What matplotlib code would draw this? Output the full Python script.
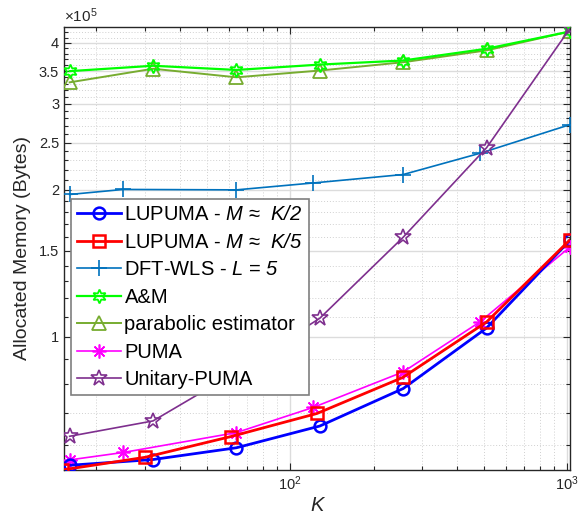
import numpy as np
import matplotlib.pyplot as plt
from matplotlib.ticker import FixedLocator, FixedFormatter, NullFormatter

plt.rcParams['font.family'] = ['Liberation Sans', 'DejaVu Sans']
plt.rcParams['mathtext.fontset'] = 'custom'
# math text is only used for the italic symbols in the labels
plt.rcParams['mathtext.rm'] = 'Liberation Sans:italic'
plt.rcParams['mathtext.it'] = 'Liberation Sans:italic'

# K values for each method
k_pow2 = [16, 32, 64, 128, 256, 512, 1024]
k_div5 = [15, 30, 61, 125, 255, 512, 1020]
k_sq = [16, 25, 64, 121, 256, 484, 1024]

# allocated memory in bytes
lupuma_k2 = [0.546e5, 0.561e5, 0.593e5, 0.657e5, 0.784e5, 1.043e5, 1.577e5]
lupuma_k5 = [0.534e5, 0.567e5, 0.625e5, 0.697e5, 0.826e5, 1.073e5, 1.577e5]
dft_wls = [1.957e5, 2.004e5, 2.00e5, 2.066e5, 2.15e5, 2.376e5, 2.72e5]
am = [3.50e5, 3.59e5, 3.52e5, 3.61e5, 3.68e5, 3.89e5, 4.22e5]
parabolic = [3.32e5, 3.54e5, 3.40e5, 3.51e5, 3.65e5, 3.86e5, 4.22e5]
puma = [0.560e5, 0.580e5, 0.637e5, 0.717e5, 0.848e5, 1.073e5, 1.528e5]
unitary_puma = [0.626e5, 0.673e5, 0.848e5, 1.092e5, 1.60e5, 2.44e5, 4.28e5]

ytick_vals = [1e5, 1.5e5, 2e5, 2.5e5, 3e5, 3.5e5, 4e5]
ytick_labels = ['1', '1.5', '2', '2.5', '3', '3.5', '4']

fig = plt.figure(figsize=(5.83, 5.21), dpi=100)
ax = fig.add_axes([0.1098, 0.0979, 0.8679, 0.8503])

ax.plot(k_pow2, lupuma_k2, '-o', color='#0000ff', lw=2, ms=8.5, mfc='none', mew=1.8,
        label=r'LUPUMA - $M$ ≈  $K/2$', zorder=6)
ax.plot(k_div5, lupuma_k5, '-s', color='#ff0000', lw=2, ms=8, mfc='none', mew=1.8,
        label=r'LUPUMA - $M$ ≈  $K/5$', zorder=7)
ax.plot(k_sq, dft_wls, '-+', color='#0072bd', lw=1.2, ms=11, mew=1.2,
        label=r'DFT-WLS - $L$ = $5$', zorder=5)
ax.plot(k_pow2, am, '-', marker=(6, 1, 0), color='#00ff00', lw=1.6, ms=10, mfc='none', mew=1.3,
        label='A&M', zorder=5)
ax.plot(k_pow2, parabolic, '-^', color='#77ac30', lw=1.4, ms=10, mfc='none', mew=1.3,
        label='parabolic estimator', zorder=4)
ax.plot(k_sq, puma, '-', marker=(8, 2, 0), color='#ff00ff', lw=1.2, ms=10, mew=1.2,
        label='PUMA', zorder=5)
ax.plot(k_pow2, unitary_puma, '-*', color='#7e2f8e', lw=1.2, ms=12, mfc='none', mew=1.2,
        label='Unitary-PUMA', zorder=5)

ax.set_xscale('log')
ax.set_yscale('log')
ax.set_xlim(15.27, 1024)
ax.set_ylim(0.534e5, 4.31e5)

ax.yaxis.set_major_locator(FixedLocator(ytick_vals))
ax.yaxis.set_major_formatter(FixedFormatter(ytick_labels))
minor_y = [v * 1e4 for v in range(6, 43) if v % 5 != 0]
ax.yaxis.set_minor_locator(FixedLocator(minor_y))
ax.yaxis.set_minor_formatter(NullFormatter())

ax.grid(True, which='major', color='#dcdcdc', lw=1.0, ls='-')
ax.grid(True, which='minor', color='#d0d0d0', lw=0.7, ls=(0, (1, 2)))
ax.set_axisbelow(True)

ax.tick_params(which='both', direction='in', top=True, right=True, colors='#262626',
               labelsize=10.5, width=0.8)
ax.tick_params(which='major', length=5)
ax.tick_params(which='minor', length=3)
for s in ax.spines.values():
    s.set_color('#262626')
    s.set_linewidth(1.0)

ax.set_xlabel('K', fontsize=14.5, fontstyle='italic', color='#262626', labelpad=2)
ax.set_ylabel('Allocated Memory (Bytes)', fontsize=14, color='#262626', labelpad=6)
ax.text(0.0, 1.005, r'×10$\mathregular{^{5}}$', transform=ax.transAxes,
        fontsize=11, color='#262626', ha='left', va='bottom')

leg = ax.legend(loc='upper left', bbox_to_anchor=(0.014, 0.611), borderaxespad=0,
                fontsize=14.5, handlelength=2.2, handletextpad=0.15, labelspacing=0.42,
                borderpad=0.3, fancybox=False, edgecolor='#7f7f7f', framealpha=1)
leg.get_frame().set_linewidth(1.2)
leg.set_zorder(10)

fig.savefig('out.png', dpi=100)
